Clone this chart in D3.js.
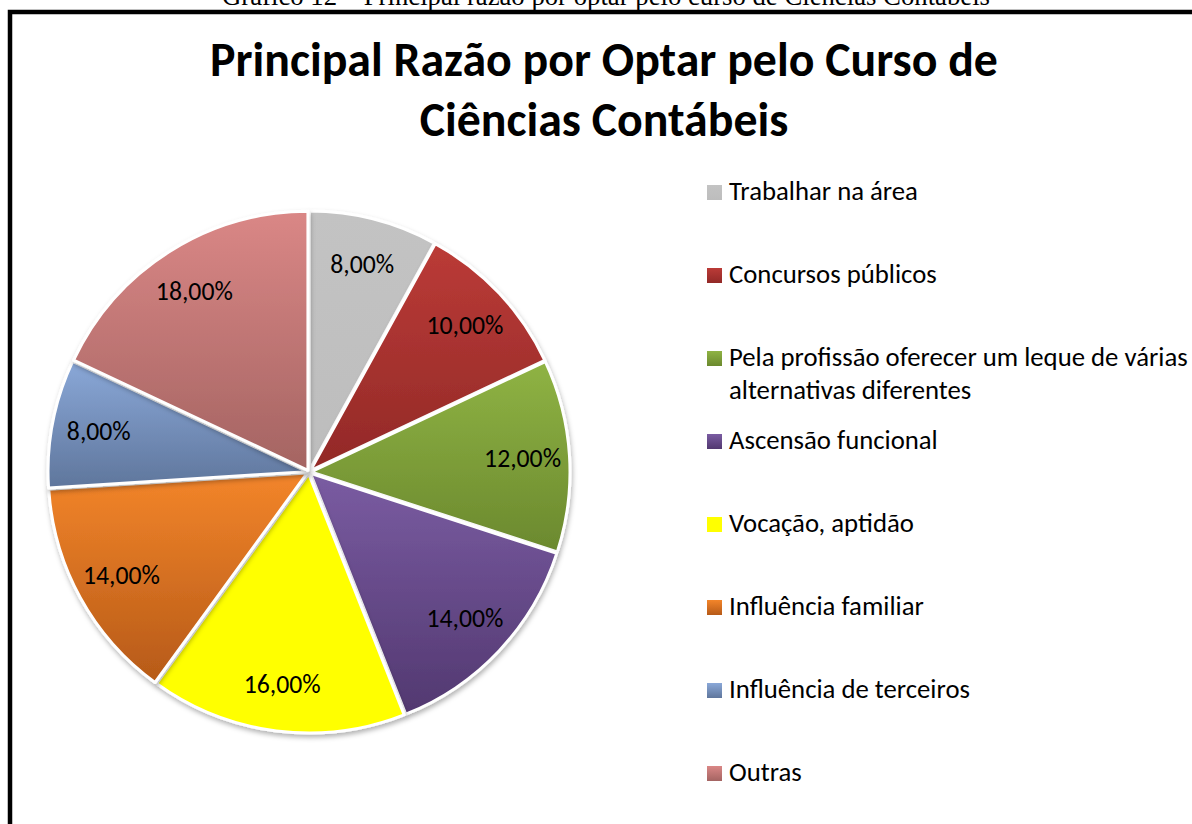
<!DOCTYPE html>
<html>
<head>
<meta charset="utf-8">
<script src="https://cdn.jsdelivr.net/npm/d3@7"></script>
<style>
  html, body { margin: 0; padding: 0; background: #fff; overflow: hidden; }
</style>
</head>
<body>
<script>
//chart data
var categories = [
    "Trabalhar na área",
    "Concursos públicos",
    "Pela profissão oferecer um leque de várias alternativas diferentes",
    "Ascensão funcional",
    "Vocação, aptidão",
    "Influência familiar",
    "Influência de terceiros",
    "Outras"
];
var values = [8, 10, 12, 14, 16, 14, 8, 18];

var caption = "Gráfico 12 – Principal razão por optar pelo curso de Ciências Contábeis";
var titleLines = ["Principal Razão por Optar pelo Curso de", "Ciências Contábeis"];

//slice colours (top / bottom of gradient)
var colorTop    = ["#c3c3c3", "#bb3b37", "#8fb344", "#7a5ca2", "#ffff00", "#f3852a", "#8aa8d8", "#da8786"];
var colorBottom = ["#bdbdbd", "#922927", "#6b892e", "#523870", "#ffff00", "#b65a18", "#5f769c", "#a46462"];

//Width and height
var w = 1192;
var h = 824;
var font = "Carlito, Calibri, Lato, sans-serif";

var svg = d3.select("body")
            .append("svg")
            .attr("width", w)
            .attr("height", h);

//font size that makes a text as wide as target
function fitSize(text, family, weight, target) {
    var t = svg.append("text")
        .attr("font-family", family)
        .attr("font-weight", weight)
        .attr("font-size", 100)
        .text(text);
    var len = t.node().getComputedTextLength();
    t.remove();
    return 100 * target / len;
}

var titleSize = fitSize(titleLines[0], font, "bold", 788);
var legendSize = fitSize(categories[0], font, "normal", 189);
var labelSize = fitSize("18,00%", font, "normal", 77);
var captionSize = fitSize(caption, "Liberation Serif, Times New Roman, serif", "normal", 768);

var defs = svg.append("defs");

//gradients for slices
colorTop.forEach(function(c, i) {
    var g = defs.append("linearGradient")
        .attr("id", "grad" + i)
        .attr("x1", 0).attr("y1", 0)
        .attr("x2", 0).attr("y2", 1);
    g.append("stop").attr("offset", "0%").attr("stop-color", c);
    g.append("stop").attr("offset", "100%").attr("stop-color", colorBottom[i]);
});

//soft shadow
var f = defs.append("filter")
    .attr("id", "shadow")
    .attr("x", "-20%").attr("y", "-20%")
    .attr("width", "140%").attr("height", "140%");
f.append("feDropShadow")
    .attr("dx", 1).attr("dy", 3)
    .attr("stdDeviation", 2.5)
    .attr("flood-color", "#000")
    .attr("flood-opacity", 0.3);

//caption above the frame (cut off at the top, as in the source page)
svg.append("text")
    .attr("x", 606)
    .attr("y", 5)
    .attr("text-anchor", "middle")
    .attr("font-family", "Liberation Serif, Times New Roman, serif")
    .attr("font-size", captionSize)
    .attr("fill", "#000")
    .text(caption);

//frame
svg.append("rect")
    .attr("x", 10)
    .attr("y", 12)
    .attr("width", 1300)
    .attr("height", 1000)
    .attr("fill", "none")
    .attr("stroke", "#000")
    .attr("stroke-width", 4.5);

//title
svg.selectAll(".title")
    .data(titleLines)
    .enter()
    .append("text")
    .attr("class", "title")
    .attr("x", 604)
    .attr("y", function(d, i) { return 76 + i * 60; })
    .attr("text-anchor", "middle")
    .attr("font-family", font)
    .attr("font-weight", "bold")
    .attr("font-size", titleSize)
    .attr("fill", "#000")
    .text(function(d) { return d; });

//pie
var cx = 309, cy = 472, r = 259, explode = 2, labelR = 214;

var pie = d3.pie().sort(null).value(function(d) { return d; });
var arcs = pie(values);
var arc = d3.arc().innerRadius(0).outerRadius(r);

var locale = d3.formatLocale({ decimal: ",", thousands: ".", grouping: [3], currency: ["", ""] });
var fmt = locale.format(".2f");

var pieG = svg.append("g")
    .attr("transform", "translate(" + cx + "," + cy + ")");

pieG.selectAll(".slice")
    .data(arcs)
    .enter()
    .append("path")
    .attr("class", "slice")
    .attr("transform", function(d) {
        var a = (d.startAngle + d.endAngle) / 2;
        return "translate(" + (Math.sin(a) * explode) + "," + (-Math.cos(a) * explode) + ")";
    })
    .attr("d", arc)
    .attr("fill", function(d, i) { return "url(#grad" + i + ")"; })
    .attr("stroke", "#fff")
    .attr("stroke-width", 3)
    .attr("stroke-linejoin", "round")
    .attr("filter", "url(#shadow)");

pieG.selectAll(".label")
    .data(arcs)
    .enter()
    .append("text")
    .attr("class", "label")
    .attr("x", function(d) { return Math.sin((d.startAngle + d.endAngle) / 2) * labelR; })
    .attr("y", function(d) { return -Math.cos((d.startAngle + d.endAngle) / 2) * labelR; })
    .attr("text-anchor", "middle")
    .attr("dominant-baseline", "central")
    .attr("font-family", font)
    .attr("font-size", labelSize)
    .attr("fill", "#000")
    .text(function(d) { return fmt(d.data) + "%"; });

//legend
var yLegend = d3.scalePoint()
    .domain(categories)
    .range([185, 185 + 83 * 7]);

var legend = svg.selectAll(".legend")
    .data(categories)
    .enter()
    .append("g")
    .attr("class", "legend")
    .attr("transform", function(d) { return "translate(707," + yLegend(d) + ")"; });

legend.append("rect")
    .attr("width", 15)
    .attr("height", 15)
    .attr("fill", function(d, i) { return "url(#grad" + i + ")"; });

legend.each(function(d) {
    var t = d3.select(this).append("text")
        .attr("font-family", font)
        .attr("font-size", legendSize)
        .attr("fill", "#000");
    //simple word wrap
    var words = d.split(" ");
    var line = [];
    var lineNo = 0;
    var ts = t.append("tspan").attr("x", 22).attr("y", 15);
    words.forEach(function(word) {
        line.push(word);
        ts.text(line.join(" "));
        if (ts.node().getComputedTextLength() > 475 && line.length > 1) {
            line.pop();
            ts.text(line.join(" "));
            line = [word];
            lineNo++;
            ts = t.append("tspan").attr("x", 22).attr("y", 15 + lineNo * 33).text(word);
        }
    });
});
</script>
</body>
</html>
